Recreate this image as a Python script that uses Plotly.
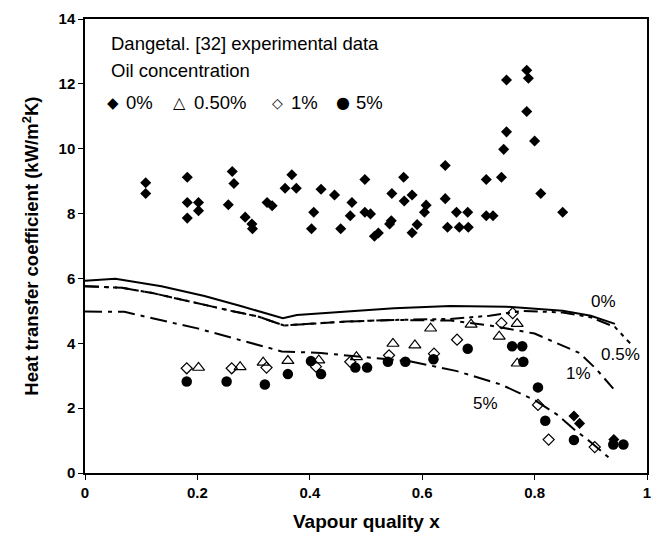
import plotly.graph_objects as go

# ---------------- data ----------------
# 0% oil (filled diamonds)
x_0 = [0.108, 0.108, 0.182, 0.182, 0.182, 0.202, 0.202, 0.262, 0.265, 0.255,
       0.285, 0.297, 0.298, 0.324, 0.333, 0.368, 0.356, 0.376, 0.420, 0.444,
       0.407, 0.403, 0.498, 0.475, 0.472, 0.455, 0.498, 0.508, 0.515, 0.522,
       0.542, 0.545, 0.546, 0.567, 0.568, 0.582, 0.607, 0.604, 0.591, 0.582,
       0.641, 0.641, 0.661, 0.681, 0.645, 0.666, 0.682, 0.714, 0.741, 0.714,
       0.726, 0.811, 0.850, 0.786, 0.789, 0.750, 0.786, 0.750, 0.800, 0.745,
       0.870, 0.880, 0.941]
y_0 = [8.95, 8.62, 9.12, 8.34, 7.86, 8.34, 8.09, 9.30, 8.93, 8.27,
       7.89, 7.68, 7.53, 8.34, 8.24, 9.20, 8.78, 8.78, 8.75, 8.57,
       8.04, 7.53, 9.05, 8.34, 7.93, 7.53, 8.04, 7.99, 7.30, 7.40,
       7.68, 7.78, 8.62, 9.12, 8.39, 8.57, 8.26, 8.04, 7.66, 7.41,
       9.48, 8.46, 8.04, 8.04, 7.58, 7.58, 7.58, 9.05, 9.12, 7.93,
       7.93, 8.62, 8.04, 12.42, 12.17, 12.12, 11.15, 10.52, 10.24, 9.98,
       1.76, 1.53, 1.03]

# 0.50% oil (open triangles)
x_05 = [0.202, 0.276, 0.317, 0.361, 0.416, 0.483, 0.548, 0.587, 0.615,
        0.687, 0.737, 0.769, 0.769]
y_05 = [3.25, 3.27, 3.41, 3.46, 3.48, 3.58, 3.99, 3.94, 4.46,
        4.58, 4.21, 4.60, 3.38]

# 1% oil (open diamonds)
x_1 = [0.181, 0.261, 0.323, 0.411, 0.472, 0.541, 0.621, 0.662, 0.741,
       0.761, 0.806, 0.825, 0.907]
y_1 = [3.23, 3.23, 3.25, 3.28, 3.43, 3.63, 3.68, 4.11, 4.62,
       4.93, 2.10, 1.03, 0.80]

# 5% oil (filled circles)
x_5 = [0.181, 0.252, 0.320, 0.361, 0.402, 0.420, 0.481, 0.502, 0.539, 0.570,
       0.620, 0.681, 0.760, 0.778, 0.780, 0.806, 0.819, 0.870, 0.940, 0.958]
y_5 = [2.82, 2.82, 2.73, 3.05, 3.45, 3.05, 3.25, 3.25, 3.43, 3.43,
       3.51, 3.83, 3.91, 3.91, 3.43, 2.64, 1.61, 1.02, 0.88, 0.88]

# model curves
cx_0 = [0.0, 0.054, 0.136, 0.2125, 0.277, 0.352, 0.377, 0.45, 0.55, 0.65, 0.75, 0.85, 0.9, 0.943]
cy_0 = [5.93, 5.99, 5.76, 5.46, 5.15, 4.77, 4.87, 4.95, 5.08, 5.15, 5.13, 5.0, 4.85, 4.6]

cx_05 = [0.0, 0.066, 0.12, 0.2, 0.26, 0.307, 0.354, 0.40, 0.465, 0.55, 0.65, 0.72, 0.78, 0.85, 0.90, 0.943, 0.97]
cy_05 = [5.76, 5.71, 5.55, 5.23, 5.0, 4.83, 4.55, 4.6, 4.67, 4.72, 4.75, 4.85, 5.0, 4.95, 4.8, 4.5, 4.0]

cx_1 = [0.0, 0.066, 0.12, 0.2, 0.26, 0.307, 0.354, 0.40, 0.465, 0.55, 0.65, 0.72, 0.80, 0.88, 0.91, 0.94]
cy_1 = [5.76, 5.71, 5.55, 5.23, 5.0, 4.83, 4.55, 4.6, 4.67, 4.72, 4.7, 4.55, 4.3, 3.7, 3.2, 2.6]

cx_5 = [0.0, 0.07, 0.12, 0.2, 0.28, 0.35, 0.42, 0.5, 0.58, 0.66, 0.74, 0.8, 0.84, 0.87, 0.9, 0.935]
cy_5 = [4.98, 4.97, 4.77, 4.46, 4.08, 3.75, 3.7, 3.58, 3.44, 3.15, 2.73, 2.25, 1.8, 1.35, 0.95, 0.43]

curve_labels = ["0%", "0.5%", "1%", "5%"]
label_x = [0.922, 0.953, 0.878, 0.712]
label_y = [5.29, 3.64, 3.08, 2.15]

x_ticks = [0, 0.2, 0.4, 0.6, 0.8, 1]
x_ticktext = ["0", "0.2", "0.4", "0.6", "0.8", "1"]
y_ticks = [0, 2, 4, 6, 8, 10, 12, 14]

FONT = "Liberation Sans, Arial, sans-serif"

fig = go.Figure()

# curves
fig.add_trace(go.Scatter(x=cx_0, y=cy_0, mode="lines",
                         line=dict(color="black", width=2), showlegend=False))
fig.add_trace(go.Scatter(x=cx_05, y=cy_05, mode="lines",
                         line=dict(color="black", width=2, dash="14px,5px,4px,5px,4px,5px"),
                         showlegend=False))
fig.add_trace(go.Scatter(x=cx_1, y=cy_1, mode="lines",
                         line=dict(color="black", width=2, dash="14px,6px,4px,6px"),
                         showlegend=False))
fig.add_trace(go.Scatter(x=cx_5, y=cy_5, mode="lines",
                         line=dict(color="black", width=2, dash="17px,6px,4px,6px"),
                         showlegend=False))

# data markers
fig.add_trace(go.Scatter(x=x_0, y=y_0, mode="markers",
                         marker=dict(symbol="diamond", size=8.5, color="black"),
                         showlegend=False))
fig.add_trace(go.Scatter(x=x_05, y=y_05, mode="markers",
                         marker=dict(symbol="triangle-up-open", size=10.5, color="black",
                                     line=dict(width=1.2, color="black")),
                         showlegend=False))
fig.add_trace(go.Scatter(x=x_1, y=y_1, mode="markers",
                         marker=dict(symbol="diamond-open", size=8.5, color="black",
                                     line=dict(width=1.2, color="black")),
                         showlegend=False))
fig.add_trace(go.Scatter(x=x_5, y=y_5, mode="markers",
                         marker=dict(symbol="circle", size=10.5, color="black"),
                         showlegend=False))

annotations = []
for t, lx, ly in zip(curve_labels, label_x, label_y):
    annotations.append(dict(x=lx, y=ly, xref="x", yref="y", text=t, showarrow=False,
                            font=dict(family=FONT, size=17, color="black"),
                            xanchor="center", yanchor="middle"))

# legend block (text)
annotations.append(dict(x=0.043, y=0.946, xref="paper", yref="paper",
                        text="Dangetal. [32] experimental data", showarrow=False,
                        font=dict(family=FONT, size=18.5, color="black"),
                        xanchor="left", yanchor="middle"))
annotations.append(dict(x=0.043, y=0.887, xref="paper", yref="paper",
                        text="Oil concentration", showarrow=False,
                        font=dict(family=FONT, size=18.5, color="black"),
                        xanchor="left", yanchor="middle"))

leg_glyph = ["◆", "△", "◇", "●"]
leg_text = ["0%", "0.50%", "1%", "5%"]
leg_glyph_px = [113, 180, 279, 345]
leg_text_px = [124, 192, 290, 356]
leg_glyph_size = [15, 16, 14, 16]
for g, t, gp, tp, gs in zip(leg_glyph, leg_text, leg_glyph_px, leg_text_px, leg_glyph_size):
    annotations.append(dict(x=(gp - 84.7) / 566, y=0.816, xref="paper", yref="paper",
                            text=g, showarrow=False,
                            font=dict(family="DejaVu Sans", size=gs, color="black"),
                            xanchor="center", yanchor="middle"))
    annotations.append(dict(x=(tp - 84.7) / 566, y=0.816, xref="paper", yref="paper",
                            text=t, showarrow=False,
                            font=dict(family=FONT, size=18.5, color="black"),
                            xanchor="left", yanchor="middle"))

# axis titles
annotations.append(dict(x=0.5, y=-0.106, xref="paper", yref="paper",
                        text="<b>Vapour quality x</b>", showarrow=False,
                        font=dict(family=FONT, size=19, color="black"),
                        xanchor="center", yanchor="middle"))
annotations.append(dict(x=-0.0966, y=0.5, xref="paper", yref="paper",
                        text="<b>Heat transfer coefficient (kW/m<sup>2</sup>K)</b>",
                        showarrow=False, textangle=-90,
                        font=dict(family=FONT, size=18.5, color="black"),
                        xanchor="center", yanchor="middle"))

axis_common = dict(ticks="outside", ticklen=5, tickwidth=1, tickcolor="black",
                   showline=True, linecolor="black", linewidth=1.5, mirror=True,
                   showgrid=False, zeroline=False,
                   tickfont=dict(family=FONT, size=15, color="black", weight="bold"))

fig.update_layout(
    width=661, height=540,
    margin=dict(l=85, r=10, t=12, b=67),
    paper_bgcolor="white", plot_bgcolor="white",
    xaxis=dict(range=[0, 1], tickvals=x_ticks, ticktext=x_ticktext, **axis_common),
    yaxis=dict(range=[0, 14], tickvals=y_ticks, **axis_common),
    annotations=annotations,
    showlegend=False,
)

fig.write_html("out.html",
               config={"displayModeBar": False},
               post_script="document.body.style.margin='0';document.body.style.padding='0';")
